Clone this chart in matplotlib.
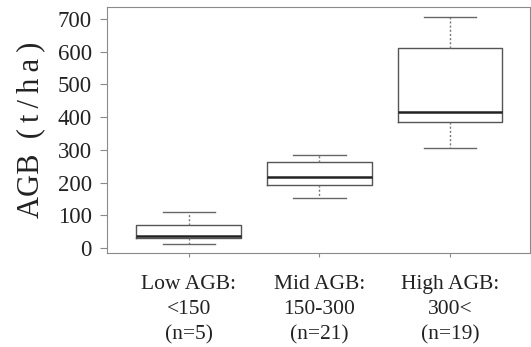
import matplotlib.pyplot as plt

plt.rcParams['font.family'] = ['Liberation Serif', 'DejaVu Serif']

groups = ['Low AGB:\n<150\n(n=5)', 'Mid AGB:\n150-300\n(n=21)', 'High AGB:\n300<\n(n=19)']
whisker_low = [12, 153, 306]
q1 = [30, 193, 385]
median = [37, 217, 416]
q3 = [70, 263, 611]
whisker_high = [110, 284, 706]

stats = []
for i in range(len(groups)):
    stats.append({'whislo': whisker_low[i], 'q1': q1[i], 'med': median[i],
                  'q3': q3[i], 'whishi': whisker_high[i], 'fliers': []})

fig = plt.figure(figsize=(5.31, 3.47), dpi=100)
ax = fig.add_axes([0.2015, 0.271, 0.7965, 0.709])

ax.bxp(stats, positions=[1, 2, 3], widths=0.8, capwidths=0.4, showfliers=False,
       boxprops=dict(color='#555555', linewidth=1.0),
       medianprops=dict(color='#222222', linewidth=1.8),
       whiskerprops=dict(color='#777777', linewidth=1.0, linestyle=(0, (1.5, 1.5))),
       capprops=dict(color='#666666', linewidth=1.0))

ax.set_xlim(0.375, 3.61)
ax.set_ylim(-15, 737)
ax.set_yticks([0, 100, 200, 300, 400, 500, 600, 700])
ax.set_xticks([1, 2, 3])
ax.set_xticklabels(groups, linespacing=1.42)

for s in ax.spines.values():
    s.set_color('#8a8a8a')
ax.tick_params(axis='y', direction='out', length=5, width=0.8, color='#8a8a8a',
               labelsize=16.5, pad=6, labelcolor='#222222')
ax.tick_params(axis='x', direction='out', length=3, width=0.8, color='#8a8a8a',
               labelsize=15.5, pad=13, labelcolor='#222222')

ax.set_ylabel('AGB  (\u2009t\u2009/\u2009h\u2009a\u2009)', fontsize=22, color='#222222', labelpad=9)

fig.savefig('out.png', dpi=100)
